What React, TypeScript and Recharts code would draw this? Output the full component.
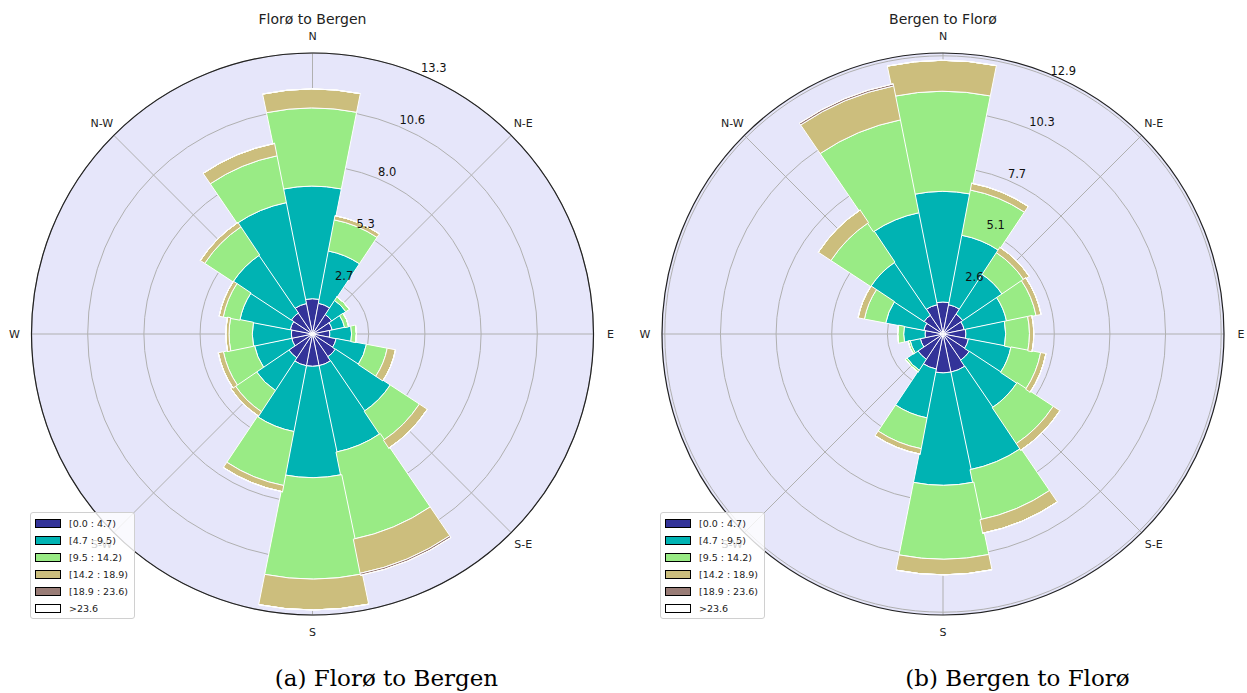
import React from "react";
import {
  RadialBarChart,
  RadialBar,
  PolarGrid,
  PolarAngleAxis,
  PolarRadiusAxis,
  Legend,
} from "recharts";

// 16 compass sectors, clockwise from north
const directions = ["N", "NNE", "NE", "ENE", "E", "ESE", "SE", "SSE", "S", "SSW", "SW", "WSW", "W", "WNW", "NW", "NNW"];

// wind speed bins (m/s)
const binLabels = ["[0.0 : 4.7)", "[4.7 : 9.5)", "[9.5 : 14.2)", "[14.2 : 18.9)", "[18.9 : 23.6)", ">23.6"];
const binColors = ["#333399", "#00b3b3", "#99eb85", "#ccbe7d", "#997c76", "#ffffff"];

// Florø -> Bergen, frequency (%) per sector for each speed bin
const fbBin0 = [1.67, 1.48, 1.1, 0.95, 0.82, 1.14, 1.3, 1.53, 1.53, 1.53, 1.35, 1.0, 1.0, 1.07, 1.2, 1.47];
const fbBin1 = [5.33, 2.52, 0.8, 0.6, 1.03, 1.46, 3.1, 4.17, 5.27, 3.17, 1.85, 1.8, 1.85, 2.43, 3.3, 4.87];
const fbBin2 = [3.7, 1.5, 0.2, 0.2, 0.23, 1.0, 1.65, 4.2, 4.8, 2.6, 1.2, 1.5, 1.1, 0.8, 1.6, 2.26];
const fbBin3 = [0.9, 0.2, 0, 0, 0, 0.4, 0.45, 1.65, 1.46, 0.3, 0.25, 0.25, 0.15, 0.2, 0.25, 0.6];
const fbBin4 = [0, 0, 0, 0, 0, 0, 0, 0.1, 0, 0, 0, 0, 0, 0, 0, 0];
const fbBin5 = [0, 0, 0, 0, 0, 0, 0, 0, 0, 0, 0, 0, 0, 0, 0, 0];
const fbTicks = [2.66, 5.32, 7.98, 10.64, 13.3];

// Bergen -> Florø
const bfBin0 = [1.48, 1.38, 1.1, 1.0, 1.06, 1.2, 1.46, 1.8, 1.8, 1.65, 1.4, 1.07, 0.83, 0.9, 1.05, 1.38];
const bfBin1 = [5.12, 3.27, 2.2, 2.0, 1.84, 2.0, 2.64, 4.6, 5.2, 2.3, 0.6, 0.48, 0.99, 1.8, 2.95, 4.34];
const bfBin2 = [4.63, 2.13, 1.2, 1.39, 1.1, 1.4, 2.0, 2.36, 3.42, 1.45, 0.1, 0.1, 0.28, 1.0, 2.2, 4.38];
const bfBin3 = [1.43, 0.32, 0.3, 0.24, 0.2, 0.25, 0.37, 0.64, 0.72, 0.26, 0, 0, 0, 0.3, 0.7, 1.6];
const bfBin4 = [0, 0, 0, 0, 0, 0, 0, 0, 0, 0, 0, 0, 0, 0, 0, 0.1];
const bfBin5 = [0, 0, 0, 0, 0, 0, 0, 0, 0, 0, 0, 0, 0, 0, 0, 0];
const bfTicks = [2.574, 5.148, 7.722, 10.296, 12.87];

const compassNames: Record<string, string> = {
  N: "N", NE: "N-E", E: "E", SE: "S-E", S: "S", SW: "S-W", W: "W", NW: "N-W",
};

const FONT = "'DejaVu Sans', sans-serif";
const W = 626;
const H = 650;
const CY = 334;
const R = 281;
const LABEL_R = 298;

function buildRows(bins: number[][]) {
  return directions.map((dir, i) => {
    const row: Record<string, string | number> = { dir };
    bins.forEach((b, k) => {
      row["b" + k] = b[i];
    });
    return row;
  });
}

function SpeedLegend() {
  return (
    <div
      style={{
        width: 105,
        height: 107,
        boxSizing: "border-box",
        border: "1px solid #d0d0d0",
        borderRadius: 3,
        background: "rgba(255,255,255,0.8)",
        padding: "2px 0 0 4px",
        fontFamily: FONT,
        fontSize: 9.5,
        color: "#222",
      }}
    >
      {binLabels.map((label, i) => (
        <div key={label} style={{ display: "flex", alignItems: "center", height: 17 }}>
          <span
            style={{
              display: "inline-block",
              width: 26,
              height: 9,
              boxSizing: "border-box",
              border: "1px solid #000",
              background: binColors[i],
              marginRight: 8,
            }}
          />
          <span>{label}</span>
        </div>
      ))}
    </div>
  );
}

type RoseProps = {
  title: string;
  left: number;
  cx: number;
  bins: number[][];
  ticks: number[];
};

function WindRose({ title, left, cx, bins, ticks }: RoseProps) {
  const rows = buildRows(bins);
  const rmax = ticks[ticks.length - 1];

  const CompassTick = (props: any) => {
    const name = compassNames[props.payload?.value];
    if (!name) return <g />;
    const a = ((90 - props.index * 22.5) * Math.PI) / 180;
    return (
      <text
        x={cx + LABEL_R * Math.cos(a)}
        y={CY - LABEL_R * Math.sin(a)}
        textAnchor="middle"
        dominantBaseline="central"
        fontFamily={FONT}
        fontSize={11}
        fill="#222"
      >
        {name}
      </text>
    );
  };

  const RadiusTick = (props: any) => (
    <text x={props.x + 1} y={props.y - 2} textAnchor="start" fontFamily={FONT} fontSize={11.5} fill="#111">
      {Number(props.payload.value).toFixed(1)}
    </text>
  );

  return (
    <div style={{ position: "absolute", left, top: 0, width: W, height: H }}>
      <div
        style={{
          position: "absolute",
          left: 0,
          top: 0,
          width: W,
          height: H,
          background: `radial-gradient(circle at ${cx}px ${CY}px, #e6e6fa ${R}px, rgba(230,230,250,0) ${R + 0.6}px)`,
        }}
      >
        {/* sectors are centred on each compass point: the first band spans 78.75..101.25 deg */}
        <RadialBarChart
          width={W}
          height={H}
          cx={cx}
          cy={CY}
          innerRadius={0}
          outerRadius={R}
          startAngle={78.75}
          endAngle={-281.25}
          layout="centric"
          data={rows}
          barCategoryGap={0}
          barGap={0}
          margin={{ top: 0, right: 0, bottom: 0, left: 0 }}
        >
          <PolarAngleAxis
            dataKey="dir"
            type="category"
            axisLineType="circle"
            axisLine={{ stroke: "#222", strokeWidth: 1.2 }}
            tickLine={false}
            tick={CompassTick}
          />
          <PolarRadiusAxis
            type="number"
            domain={[0, rmax]}
            ticks={ticks}
            angle={67.5}
            axisLine={false}
            tick={RadiusTick}
          />
          {bins.map((_, k) => (
            <RadialBar
              key={k}
              dataKey={"b" + k}
              stackId="speed"
              fill={binColors[k]}
              stroke="#ffffff"
              strokeWidth={1}
              isAnimationActive={false}
            />
          ))}
          <PolarGrid
            gridType="circle"
            polarAngles={[90, 45, 0, -45, -90, -135, 180, 135]}
            stroke="#b0b0b0"
            strokeWidth={1}
          />
          <Legend
            verticalAlign="top"
            align="left"
            content={<SpeedLegend />}
            wrapperStyle={{ left: 30, top: 512, width: 105, height: 107 }}
          />
        </RadialBarChart>
      </div>
      <div
        style={{
          position: "absolute",
          left: 0,
          width: 2 * cx,
          top: 11,
          textAlign: "center",
          fontFamily: FONT,
          fontSize: 14,
          lineHeight: "16px",
          color: "#222",
        }}
      >
        {title}
      </div>
    </div>
  );
}

const captionStyle: React.CSSProperties = {
  position: "absolute",
  top: 664,
  width: 300,
  textAlign: "center",
  fontFamily: "'DejaVu Serif', serif",
  fontSize: 23,
  lineHeight: "28px",
  color: "#000",
};

export default function App() {
  return (
    <div
      style={{
        position: "absolute",
        left: 0,
        top: 0,
        width: 1247,
        height: 693,
        background: "#fff",
        overflow: "hidden",
      }}
    >
      <WindRose
        title="Florø to Bergen"
        left={0}
        cx={312.5}
        bins={[fbBin0, fbBin1, fbBin2, fbBin3, fbBin4, fbBin5]}
        ticks={fbTicks}
      />
      <WindRose
        title="Bergen to Florø"
        left={630}
        cx={313}
        bins={[bfBin0, bfBin1, bfBin2, bfBin3, bfBin4, bfBin5]}
        ticks={bfTicks}
      />
      <div style={{ ...captionStyle, left: 386.5 - 150 }}>(a) Florø to Bergen</div>
      <div style={{ ...captionStyle, left: 1017.5 - 150 }}>(b) Bergen to Florø</div>
    </div>
  );
}
